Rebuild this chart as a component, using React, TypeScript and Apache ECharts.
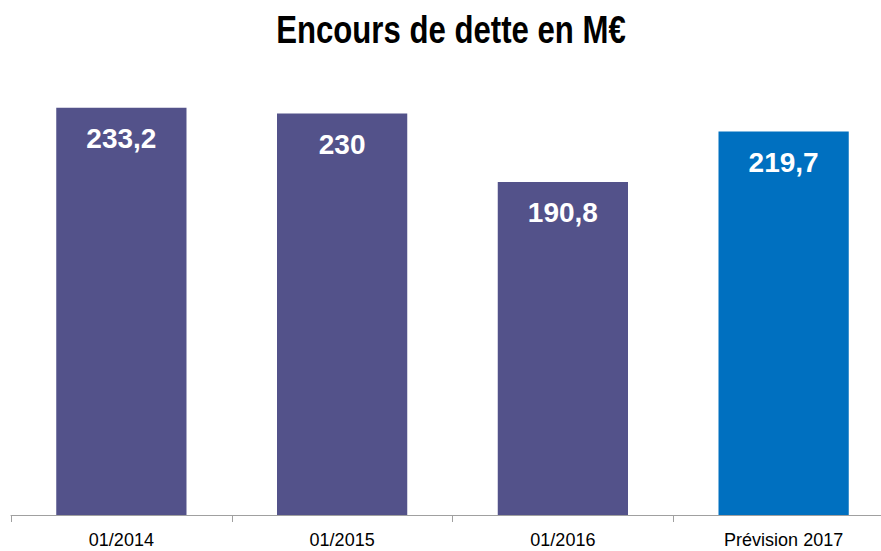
import React, { useEffect, useRef } from "react";
import * as echarts from "echarts";

const titleText = "Encours de dette en M€";
const categories = ["01/2014", "01/2015", "01/2016", "Prévision 2017"];
const values = [233.2, 230, 190.8, 219.7];
const barColors = ["#53528A", "#53528A", "#53528A", "#0070C0"];

export default function App() {
  const ref = useRef<HTMLDivElement>(null);
  useEffect(() => {
    document.body.style.margin = "0";
    const chart = echarts.init(ref.current!, null, { renderer: "svg" });
    const font = "'Liberation Sans', Arial, sans-serif";
    chart.setOption({
      animation: false,
      backgroundColor: "#ffffff",
      graphic: [
        {
          type: "text",
          x: 451,
          y: 30,
          scaleX: 0.82,
          style: {
            text: titleText,
            fontFamily: font,
            fontWeight: "bold",
            fontSize: 38,
            fill: "#000000",
            textAlign: "center",
            textVerticalAlign: "middle",
          },
        },
      ],
      grid: { left: 11, width: 883, top: 96, bottom: 36, containLabel: false, outerBoundsMode: "none" },
      xAxis: {
        type: "category",
        data: categories,
        axisLine: { show: true, lineStyle: { color: "#A0A0A0", width: 1 } },
        axisTick: { show: true, length: 7, lineStyle: { color: "#A0A0A0" } },
        axisLabel: {
          fontFamily: font,
          fontSize: 18,
          color: "#000000",
          margin: 16,
          interval: 0,
        },
      },
      yAxis: {
        type: "value",
        min: 0,
        max: 240,
        show: false,
        splitLine: { show: false },
      },
      series: [
        {
          type: "bar",
          barWidth: "59%",
          data: values.map((v, i) => ({ value: v, itemStyle: { color: barColors[i] } })),
          label: {
            show: true,
            position: "insideTop",
            distance: 17,
            fontFamily: font,
            fontWeight: "bold",
            fontSize: 28,
            color: "#ffffff",
            formatter: (p: any) => String(p.value).replace(".", ","),
          },
        },
      ],
    });
    return () => chart.dispose();
  }, []);
  return <div ref={ref} style={{ width: 881, height: 551 }} />;
}
